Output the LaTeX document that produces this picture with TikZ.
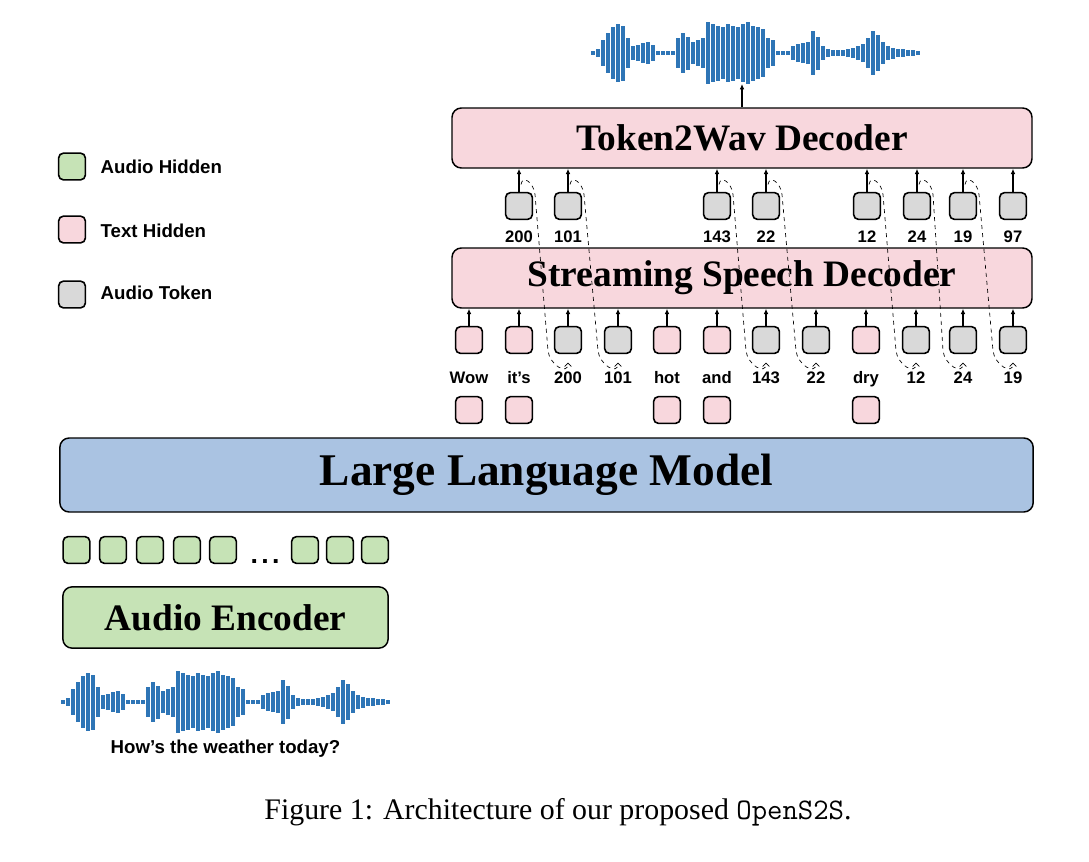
\documentclass[tikz,border=0pt]{standalone}
\usepackage{fontspec}
\setmainfont{Liberation Serif}
\setsansfont{Liberation Sans}
\usetikzlibrary{arrows.meta}

\definecolor{pinkfill}{HTML}{F8D7DD}
\definecolor{grayfill}{HTML}{D9D9D9}
\definecolor{greenfill}{HTML}{C6E3B6}
\definecolor{bluefill}{HTML}{AAC3E2}
\definecolor{wavecol}{HTML}{2E75B6}

\tikzset{
  cell/.style={draw,line width=1.2pt,rounded corners=3.5pt,minimum size=20pt,inner sep=0pt},
  txtcell/.style={cell,fill=pinkfill},
  tokcell/.style={cell,fill=grayfill},
  audcell/.style={cell,fill=greenfill},
  block/.style={draw,line width=1.1pt,rounded corners=7pt,font=\bfseries\fontsize{28}{30}\selectfont},
  lbl/.style={font=\sffamily\bfseries\fontsize{12.5}{14}\selectfont,text height=1.5ex,text depth=.25ex},
  legend/.style={anchor=west,font=\sffamily\bfseries\fontsize{14}{16}\selectfont},
  up/.style={-{Latex[length=4pt,width=3.5pt]},line width=0.9pt},
  hop/.style={dashed,line width=0.5pt,-{Straight Barb[length=2.5pt,width=5pt]}},
  wave/.pic={
    \foreach \h [count=\i] in {1.7,4,11.7,18.3,23.3,26.7,25,13.3,6.7,7.3,9.3,10,7.3,2,1.7,2,1.7,13.3,18.3,15,10,11.7,13.3,28.3,26.7,25,23.3,26.7,25,23.3,26.7,28.3,25,23.3,21.7,13.3,11.7,2,1.7,2,6.7,8.3,9.3,10,20,15,6.7,3.3,2.7,2.3,2.7,3.3,4.3,6,8.3,13.3,20,16.7,10,6.7,5,4,3.3,2.7,2.7,2}
      \fill[wavecol] ({(\i-1)*5-1.8},{-1.1*\h}) rectangle ++(3.6,{2.2*\h});
  }
}

\begin{document}
\begin{tikzpicture}[x=0.75pt,y=-0.75pt]
  \useasboundingbox (0,0) rectangle (1089,861);

  % legend
  \node[audcell] (legA) at (72,166.5) {};
  \node[txtcell] (legT) at (72,229.5) {};
  \node[tokcell] (legK) at (72,294.5) {};
  \node[legend] at (96,166.5) {Audio Hidden};
  \node[legend] at (96,231) {Text Hidden};
  \node[legend] at (96,292.5) {Audio Token};

  % decoders
  \node[block,fill=pinkfill,minimum width=435pt,minimum height=45pt] (t2w) at (742,138) {Token2Wav Decoder};
  \node[block,fill=pinkfill,minimum width=435pt,minimum height=45pt] (ssd) at (742,278) {Streaming Speech Decoder};
  \node[block,fill=bluefill,minimum width=730pt,minimum height=55.5pt,font=\bfseries\fontsize{34}{36}\selectfont] (llm) at (546.5,475) {Large Language Model};
  \node[block,fill=greenfill,minimum width=244pt,minimum height=46pt] (enc) at (225.5,617.5) {Audio Encoder};

  % output wave
  \pic at (593,53) {wave};
  \coordinate (wavebot) at (742,84);
  \draw[up] (t2w.north) -- (wavebot);

  % audio tokens into Token2Wav
  \foreach \x/\t [count=\i] in {519/200,568/101,717/143,766/22,867/12,917/24,963/19,1013/97} {
    \node[tokcell,label={[lbl,label distance=6pt]below:\t}] (t\i) at (\x,206) {};
    \draw[up] (t\i.north) -- (t\i.north |- t2w.south);
  }

  % inputs of the streaming decoder
  \foreach \x/\t/\s [count=\i] in {469/Wow/txtcell,519/it’s/txtcell,568/200/tokcell,618/101/tokcell,667/hot/txtcell,717/and/txtcell,766/143/tokcell,816/22/tokcell,866/dry/txtcell,916/12/tokcell,963/24/tokcell,1013/19/tokcell} {
    \node[\s,label={[lbl,label distance=11.5pt]below:\t}] (b\i) at (\x,340) {};
    \draw[up] (b\i.north) -- (b\i.north |- ssd.south);
  }

  % text hidden under the words
  \foreach \x [count=\i] in {469,519,667,717,866}
    \node[txtcell] (h\i) at (\x,410) {};

  % generated tokens fed back
  \foreach \s/\e in {1/3,2/4,3/7,4/8,5/10,6/11,7/12}
    \draw[hop] ([xshift=1.5pt,yshift=5.6pt]t\s.north) to[out=80,in=95,looseness=1.6] ([xshift=12pt,yshift=-2pt]t\s.north)
      -- ([xshift=-15pt,yshift=2.6pt]b\e.south) to[out=-85,in=-90,looseness=1.5] ([yshift=-6.4pt]b\e.south);

  % audio hidden states
  \foreach \x [count=\i] in {76.5,113,150,187,223,305,340,375}
    \node[audcell] (a\i) at (\x,550) {};
  \node[anchor=base,font=\sffamily\bfseries\fontsize{20}{22}\selectfont] (dots) at (265,563) {.\hspace{2.5pt}.\hspace{2.5pt}.};

  % input wave
  \pic at (63,702) {wave};
  \node[lbl,font=\sffamily\bfseries\fontsize{14}{16}\selectfont] (query) at (225.5,750) {How’s the weather today?};

  \node[font=\fontsize{22.4}{26}\selectfont] (cap) at (558,812) {Figure 1: Architecture of our proposed {\ttfamily OpenS2S}.};
\end{tikzpicture}
\end{document}
